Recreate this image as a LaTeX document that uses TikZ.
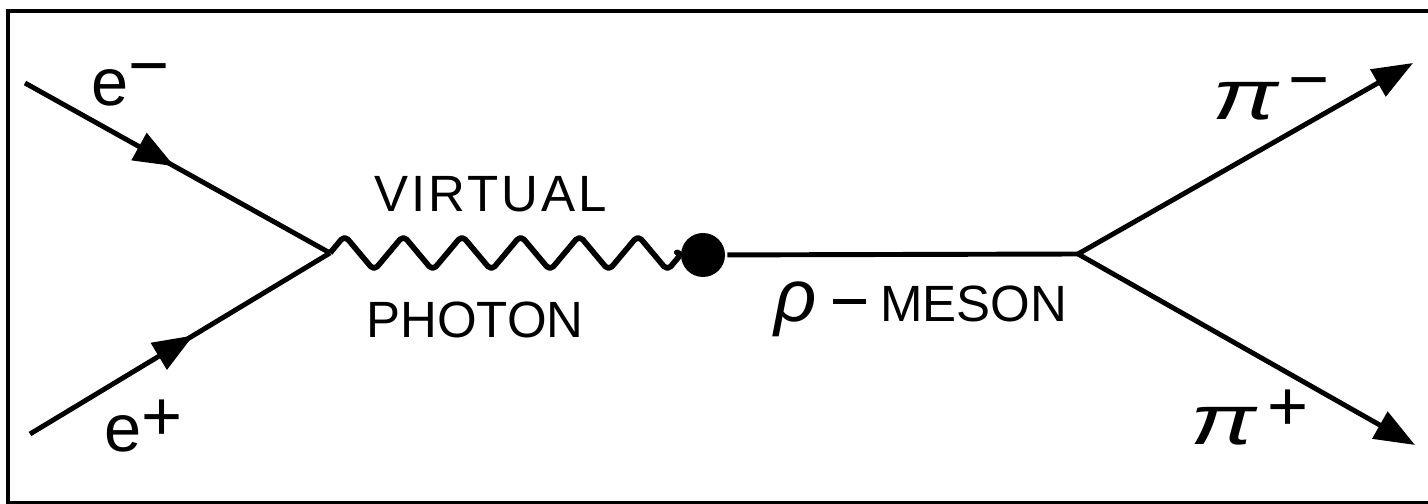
\documentclass[tikz,border=0pt]{standalone}
\usepackage{fontspec}
\setmainfont{Liberation Sans}
\usetikzlibrary{arrows.meta, decorations.markings, positioning}

% 电荷上标
\newcommand{\chg}[2]{\raisebox{#1}{\fontsize{20}{20}\selectfont #2}}

\begin{document}
\begin{tikzpicture}[
    x=0.01cm, y=-0.01cm,
    line width=1.4pt,
    >={Triangle[length=11.5pt, width=8.6pt]},
    fermion/.style={postaction={decorate},
      decoration={markings, mark=at position #1 with {\arrow{>}}}},
    wave/.style={line width=1.6pt, rounded corners=1.5pt, line join=round},
    blob/.style={circle, fill, inner sep=0pt, minimum size=12.5pt},
    lbl/.style={inner sep=0pt, anchor=base west, font=\fontsize{14.5}{16}\selectfont},
    part/.style={inner sep=0pt, anchor=base west, font=\fontsize{19}{20}\selectfont}
  ]

  \useasboundingbox (0,0) rectangle (1428,504);

  % 外框
  \draw[line width=0.9pt] (8,11) rectangle (1440,503);

  % 顶点
  \coordinate (em) at (25,83);
  \coordinate (ep) at (30,434);
  \coordinate (v1) at (330,253);
  \node[blob] (dot) at (703,255) {};
  \coordinate (v2) at (1078,254);
  \coordinate (pim) at (1413,63);
  \coordinate (pip) at (1415,445);

  % 正负电子
  \draw[fermion=0.49] (em) -- (v1);
  \draw[fermion=0.545] (ep) -- (v1);

  % 虚光子
  \draw[wave] (v1) \foreach \k in {1,...,6} {
      -- ++(14.67,-17.5) -- ++(29.33,35) -- ++(14.67,-17.5)} -- (dot);

  % rho 介子和 pi 介子
  \draw (dot) -- (v2);
  \draw[->] (v2) -- (pim);
  \draw[->] (v2) -- (pip);

  % 标签
  \node[part] (lem) at (89,106) {e\chg{4.8pt}{−}};
  \node[part] (lep) at (102,452) {e\chg{3.4pt}{+}};
  \node[lbl] (lvirt) at (372,212) {\addfontfeature{LetterSpace=6}VIRTUAL};
  \node[lbl] (lphot) at (364,338) {PHOTON};
  \node[lbl] (lrho) at (772,322) {{\fontsize{21}{22}\selectfont\itshape ρ}\hspace{4.5pt}\rule[5.2pt]{9.5pt}{1.2pt}\hspace{4pt}MESON};
  \node[part] (lpim) at (1210,120) {\scalebox{1.4}[1]{\fontsize{20}{20}\selectfont\itshape π}\hspace{3pt}\chg{4.8pt}{−}};
  \node[part] (lpip) at (1188,445) {\scalebox{1.4}[1]{\fontsize{20}{20}\selectfont\itshape π}\hspace{3pt}\chg{4.2pt}{+}};

\end{tikzpicture}
\end{document}
